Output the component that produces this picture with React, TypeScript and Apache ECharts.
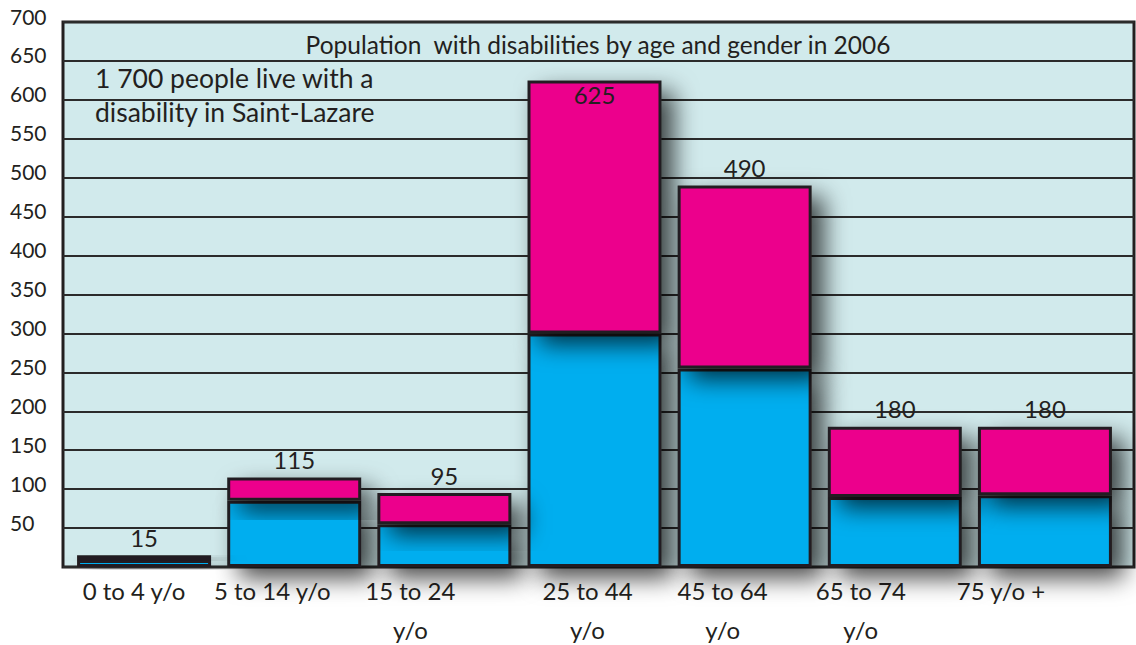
import React, { useEffect, useRef } from "react";
import * as echarts from "echarts";

const categories = [
  "0 to 4 y/o",
  "5 to 14 y/o",
  "15 to 24\ny/o",
  "25 to 44\ny/o",
  "45 to 64\ny/o",
  "65 to 74\ny/o",
  "75 y/o +",
];
const blueValues = [9, 85, 55, 300, 255, 90, 92];
const pinkValues = [6, 30, 40, 325, 235, 90, 88];
const yMin = 0;
const yMax = 700;
const yInterval = 50;
const titleText = "Population  with disabilities by age and gender in 2006";
const noteLines = ["1 700 people live with a", "disability in Saint-Lazare"];

// horizontal nudge (px) of each category label relative to its bar centre
const labelShift = [-10, -22, -34, -7, -22, -34, -44];

const FONT = "Lato, 'Open Sans', sans-serif";
const INK = "#231f20";

export default function App() {
  const ref = useRef<HTMLDivElement>(null);

  useEffect(() => {
    if (!ref.current) return;
    const chart = echarts.init(ref.current, undefined, { renderer: "svg" });

    const shadow = {
      shadowColor: "rgba(0,0,0,0.72)",
      shadowBlur: 24,
      shadowOffsetX: 12,
      shadowOffsetY: 11,
    };

    const pinkData = pinkValues.map((v, i) => {
      const total = v + blueValues[i];
      const item: any = { value: v };
      if (total > 600) {
        item.label = { position: "insideTop", distance: 2 };
      }
      return item;
    });

    const rich: any = {};
    labelShift.forEach((s, i) => {
      rich["c" + i] = {
        fontSize: 24,
        lineHeight: 39,
        color: INK,
        fontFamily: FONT,
        padding: s < 0 ? [0, -2 * s, 0, 0] : [0, 0, 0, 2 * s],
      };
    });

    chart.setOption({
      animation: false,
      grid: [
        {
          left: 63,
          right: 2,
          top: 22,
          bottom: 78,
          show: true,
          backgroundColor: "#d1eaec",
          borderColor: INK,
          borderWidth: 3,
          outerBoundsMode: "none",
        },
        { left: 69, right: 16, top: 22, bottom: 78, outerBoundsMode: "none" },
      ],
      xAxis: [
        { type: "category", gridIndex: 0, data: categories, show: false },
        {
          type: "category",
          gridIndex: 1,
          data: categories,
          axisLine: { show: false },
          axisTick: { show: false },
          axisLabel: {
            interval: 0,
            margin: 4,
            fontSize: 24,
            lineHeight: 39,
            color: INK,
            fontFamily: FONT,
            formatter: (value: string, index: number) =>
              value
                .split("\n")
                .map((line) => `{c${index}|${line}}`)
                .join("\n"),
            rich,
          },
        },
      ],
      yAxis: [
        {
          type: "value",
          gridIndex: 0,
          min: yMin,
          max: yMax,
          interval: yInterval,
          axisLine: { show: false },
          axisTick: { show: false },
          splitLine: { show: true, lineStyle: { color: "#2b2b2b", width: 2 } },
          axisLabel: {
            align: "left",
            margin: 53,
            fontSize: 21,
            color: INK,
            fontFamily: FONT,
            verticalAlign: "bottom",
            lineHeight: 12,
            formatter: (v: number) => (v === 0 ? "" : String(v)),
          },
        },
        { type: "value", gridIndex: 1, min: yMin, max: yMax, show: false },
      ],
      series: [
        {
          type: "bar",
          name: "blue",
          xAxisIndex: 1,
          yAxisIndex: 1,
          stack: "total",
          barWidth: 134,
          clip: false,
          data: blueValues,
          itemStyle: {
            color: "#00aeef",
            borderColor: INK,
            borderWidth: 3,
            ...shadow,
          },
        },
        {
          type: "bar",
          name: "pink",
          xAxisIndex: 1,
          yAxisIndex: 1,
          stack: "total",
          barWidth: 134,
          clip: false,
          data: pinkData,
          itemStyle: {
            color: "#ec008c",
            borderColor: INK,
            borderWidth: 3,
            ...shadow,
          },
          label: {
            show: true,
            position: "top",
            distance: 6,
            fontSize: 24,
            color: INK,
            fontFamily: FONT,
            formatter: (p: any) => String(p.value + blueValues[p.dataIndex]),
          },
        },
      ],
      graphic: [
        {
          type: "text",
          x: 598,
          y: 44,
          z: 10,
          style: {
            text: titleText,
            align: "center",
            verticalAlign: "middle",
            fontSize: 24.5,
            fontFamily: FONT,
            fill: INK,
          },
        },
        {
          type: "text",
          x: 95,
          y: 78,
          z: 10,
          style: {
            text: noteLines[0],
            align: "left",
            verticalAlign: "middle",
            fontSize: 26.5,
            fontFamily: FONT,
            fill: INK,
          },
        },
        {
          type: "text",
          x: 95,
          y: 112,
          z: 10,
          style: {
            text: noteLines[1],
            align: "left",
            verticalAlign: "middle",
            fontSize: 26.5,
            fontFamily: FONT,
            fill: INK,
          },
        },
      ],
    });

    return () => chart.dispose();
  }, []);

  return (
    <div
      ref={ref}
      style={{ position: "absolute", left: 0, top: 0, width: 1136, height: 645 }}
    />
  );
}
